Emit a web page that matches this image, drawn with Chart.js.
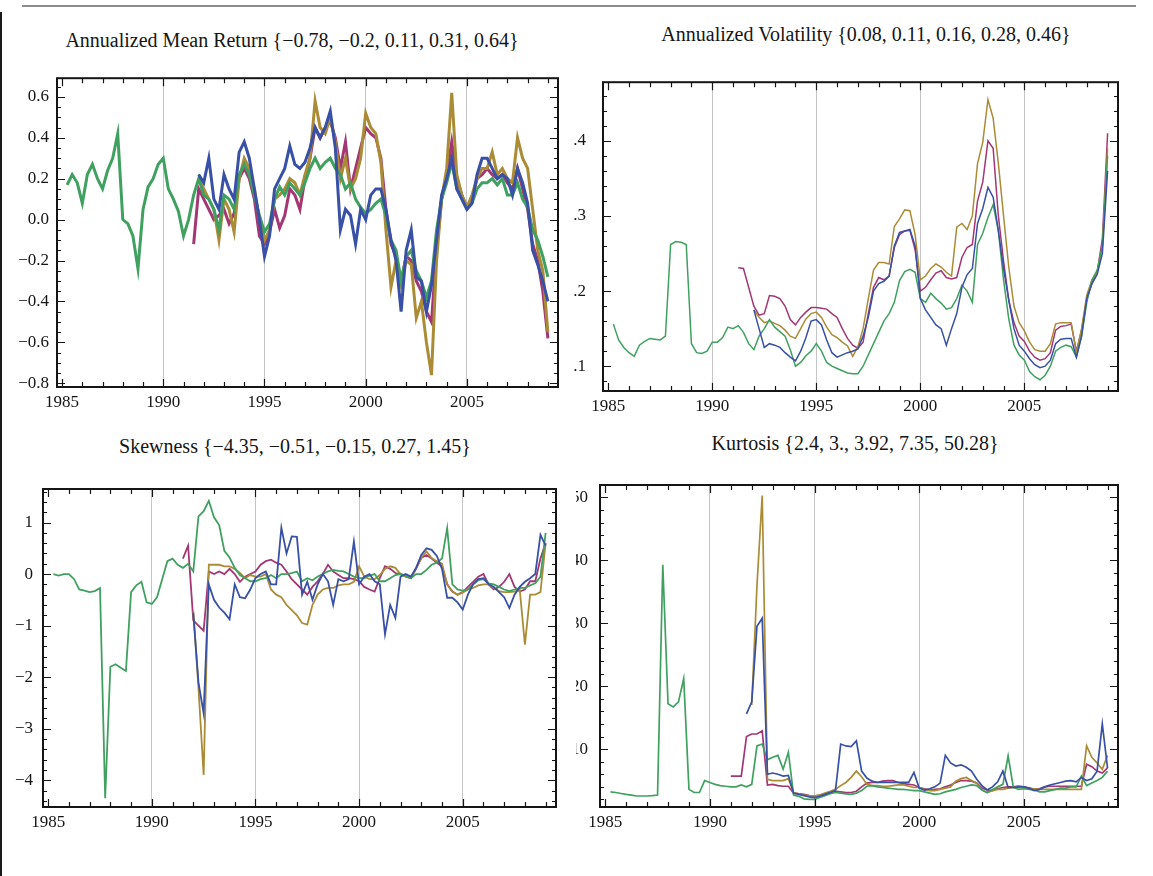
<!DOCTYPE html>
<html>
<head>
<meta charset="utf-8">
<script src="https://cdn.jsdelivr.net/npm/chart.js@4.4.1/dist/chart.umd.min.js"></script>
<style>
  html, body { margin: 0; padding: 0; background: #fff; width: 1153px; height: 876px; overflow: hidden; }
  canvas { position: absolute; }
  .ttl { position: absolute; transform: translate(-50%, -50%); white-space: nowrap;
         font: 20px 'Liberation Serif', 'Times New Roman', serif; color: #151515; }
  #topRule { position: absolute; left: 22px; top: 5px; width: 1114px; height: 2px; background: #8c8c8c; }
  #leftRule { position: absolute; left: 0; top: 12px; width: 2px; height: 864px; background: #1a1a1a; }
</style>
</head>
<body>
<div id="topRule"></div>
<div id="leftRule"></div>

<div class="ttl" style="left:292px; top:40px">Annualized Mean Return {−0.78, −0.2, 0.11, 0.31, 0.64}</div>
<div class="ttl" style="left:866px; top:34px">Annualized Volatility {0.08, 0.11, 0.16, 0.28, 0.46}</div>
<div class="ttl" style="left:295px; top:446px">Skewness {−4.35, −0.51, −0.15, 0.27, 1.45}</div>
<div class="ttl" style="left:855px; top:443px">Kurtosis {2.4, 3., 3.92, 7.35, 50.28}</div>

<canvas id="retChart" width="580" height="360" style="left:0; top:60px"></canvas>
<canvas id="volChart" width="580" height="365" style="left:573px; top:55px"></canvas>
<canvas id="skewChart" width="580" height="375" style="left:0; top:465px"></canvas>
<canvas id="kurtChart" width="577" height="380" style="left:576px; top:460px"></canvas>

<script>
// quarterly samples; each series lists its first quarter, then one value per quarter up to 2009.0
const labelYears = [1985, 1990, 1995, 2000, 2005];
const gridYears = [1990, 1995, 2000, 2005];

// ---- annualized mean return ----
const retGreenStart = 1985.25;
const retGreen = [
  0.17, 0.22, 0.18,
  0.08, 0.22, 0.27, 0.20,
  0.15, 0.24, 0.30, 0.42,
  0.00, -0.02, -0.08, -0.24,
  0.05, 0.16, 0.20, 0.27,
  0.30, 0.15, 0.10, 0.04,
  -0.08, 0.00, 0.12, 0.20,
  0.12, 0.10, 0.05, -0.05,
  0.12, 0.10, 0.05, 0.22,
  0.27, 0.22, 0.12, 0.02,
  -0.06, -0.02, 0.10, 0.16,
  0.12, 0.18, 0.15, 0.12,
  0.18, 0.25, 0.30, 0.25,
  0.28, 0.30, 0.25, 0.22,
  0.15, 0.18, 0.10, 0.06,
  0.03, 0.05, 0.08, 0.10,
  0.02, -0.10, -0.15, -0.30,
  -0.18, -0.15, -0.25, -0.30,
  -0.38, -0.30, -0.05, 0.10,
  0.18, 0.28, 0.15, 0.10,
  0.05, 0.08, 0.15, 0.18,
  0.18, 0.20, 0.17, 0.20,
  0.12, 0.12, 0.18, 0.10,
  0.06, -0.05, -0.10, -0.18,
  -0.28
];
const retMagentaStart = 1991.5;
const retMagenta = [
  -0.12, 0.15,
  0.10, 0.05, 0.00, 0.02,
  0.05, -0.02, 0.03, 0.20,
  0.25, 0.20, 0.10, -0.08,
  -0.12, -0.06, 0.05, -0.04,
  0.02, 0.15, 0.12, 0.05,
  0.20, 0.30, 0.45, 0.40,
  0.45, 0.48, 0.40, 0.25,
  0.38, 0.15, 0.25, 0.35,
  0.45, 0.42, 0.40, 0.30,
  0.05, -0.12, -0.18, -0.30,
  -0.18, -0.20, -0.30, -0.35,
  -0.45, -0.50, -0.15, 0.10,
  0.22, 0.38, 0.20, 0.12,
  0.06, 0.10, 0.20, 0.22,
  0.25, 0.22, 0.20, 0.22,
  0.18, 0.15, 0.25, 0.15,
  0.05, -0.12, -0.20, -0.35,
  -0.58
];
const retGoldStart = 1991.75;
const retGold = [
  0.20,
  0.15, 0.10, 0.05, -0.10,
  0.10, 0.05, -0.06, 0.20,
  0.30, 0.25, 0.15, 0.00,
  -0.10, -0.05, 0.10, 0.12,
  0.15, 0.20, 0.18, 0.12,
  0.22, 0.30, 0.58, 0.45,
  0.42, 0.50, 0.38, 0.20,
  0.30, 0.15, 0.20, 0.30,
  0.52, 0.45, 0.42, 0.28,
  -0.05, -0.33, -0.20, -0.32,
  -0.20, -0.22, -0.48, -0.40,
  -0.60, -0.76, -0.20, 0.10,
  0.25, 0.62, 0.22, 0.12,
  0.06, 0.12, 0.20, 0.25,
  0.25, 0.33, 0.22, 0.25,
  0.20, 0.18, 0.40, 0.30,
  0.25, 0.05, -0.15, -0.25,
  -0.55
];
const retBlueStart = 1991.75;
const retBlue = [
  0.22,
  0.18, 0.30, 0.10, 0.05,
  0.22, 0.15, 0.10, 0.33,
  0.38, 0.30, 0.15, 0.00,
  -0.18, -0.08, 0.15, 0.20,
  0.25, 0.36, 0.27, 0.25,
  0.28, 0.35, 0.45, 0.40,
  0.45, 0.53, 0.35, -0.05,
  0.05, 0.02, -0.12, 0.05,
  0.00, 0.12, 0.15, 0.15,
  0.05, -0.10, -0.20, -0.45,
  -0.15, -0.05, -0.28, -0.30,
  -0.45, -0.32, -0.10, 0.12,
  0.20, 0.30, 0.15, 0.10,
  0.05, 0.08, 0.22, 0.30,
  0.30, 0.25, 0.20, 0.22,
  0.20, 0.12, 0.25, 0.18,
  0.08, -0.15, -0.22, -0.30,
  -0.40
];
const retTicks = [-0.8, -0.6, -0.4, -0.2, 0, 0.2, 0.4, 0.6];

// ---- annualized volatility ----
const volGreenStart = 1985.25;
const volGreen = [
  0.156, 0.135, 0.125,
  0.118, 0.113, 0.128, 0.133,
  0.137, 0.136, 0.135, 0.140,
  0.262, 0.266, 0.265, 0.262,
  0.130, 0.118, 0.117, 0.120,
  0.132, 0.132, 0.138, 0.152,
  0.150, 0.154, 0.145, 0.130,
  0.122, 0.140, 0.150, 0.162,
  0.152, 0.146, 0.140, 0.122,
  0.100, 0.105, 0.114, 0.120,
  0.130, 0.120, 0.105, 0.100,
  0.097, 0.094, 0.091, 0.090,
  0.090, 0.100, 0.115, 0.130,
  0.145, 0.160, 0.170, 0.185,
  0.214, 0.226, 0.229, 0.225,
  0.190, 0.185, 0.197, 0.190,
  0.184, 0.176, 0.178, 0.190,
  0.208, 0.200, 0.185, 0.262,
  0.277, 0.298, 0.315, 0.280,
  0.215, 0.163, 0.128, 0.115,
  0.108, 0.093, 0.086, 0.082,
  0.088, 0.100, 0.120, 0.125,
  0.128, 0.126, 0.112, 0.140,
  0.185, 0.215, 0.228, 0.260,
  0.380
];
const volMagentaStart = 1991.25;
const volMagenta = [
  0.231, 0.230, 0.205,
  0.180, 0.168, 0.170, 0.194,
  0.193, 0.190, 0.180, 0.162,
  0.155, 0.165, 0.172, 0.178,
  0.178, 0.177, 0.176, 0.170,
  0.165, 0.150, 0.137, 0.128,
  0.124, 0.132, 0.170, 0.205,
  0.218, 0.215, 0.220, 0.258,
  0.275, 0.280, 0.281, 0.255,
  0.200, 0.205, 0.215, 0.224,
  0.227, 0.218, 0.216, 0.218,
  0.245, 0.258, 0.262, 0.320,
  0.345, 0.400, 0.390, 0.300,
  0.240, 0.188, 0.158, 0.140,
  0.133, 0.120, 0.112, 0.108,
  0.110, 0.118, 0.148, 0.153,
  0.154, 0.156, 0.120, 0.148,
  0.190, 0.210, 0.225, 0.270,
  0.410
];
const volGoldStart = 1992.0;
const volGold = [
  0.175, 0.165, 0.158, 0.160,
  0.157, 0.154, 0.148, 0.140,
  0.137, 0.150, 0.163, 0.170,
  0.172, 0.165, 0.152, 0.142,
  0.138, 0.132, 0.127, 0.113,
  0.126, 0.150, 0.190, 0.228,
  0.238, 0.238, 0.236, 0.286,
  0.296, 0.308, 0.307, 0.275,
  0.215, 0.220, 0.230, 0.236,
  0.232, 0.225, 0.220, 0.285,
  0.290, 0.282, 0.300, 0.370,
  0.398, 0.455, 0.430, 0.370,
  0.300, 0.232, 0.180, 0.158,
  0.147, 0.132, 0.122, 0.120,
  0.120, 0.130, 0.156, 0.158,
  0.158, 0.158, 0.118, 0.150,
  0.195, 0.215, 0.225, 0.260,
  0.390
];
const volBlueStart = 1992.0;
const volBlue = [
  0.175, 0.150, 0.125, 0.130,
  0.128, 0.125, 0.118, 0.112,
  0.107, 0.120, 0.138, 0.160,
  0.162, 0.155, 0.135, 0.118,
  0.112, 0.115, 0.118, 0.120,
  0.123, 0.140, 0.165, 0.200,
  0.210, 0.213, 0.220, 0.260,
  0.278, 0.280, 0.282, 0.260,
  0.190, 0.175, 0.165, 0.155,
  0.150, 0.128, 0.150, 0.170,
  0.205, 0.222, 0.230, 0.290,
  0.310, 0.338, 0.325, 0.280,
  0.230, 0.188, 0.150, 0.128,
  0.120, 0.110, 0.102, 0.098,
  0.100, 0.108, 0.130, 0.136,
  0.137, 0.137, 0.112, 0.140,
  0.190, 0.210, 0.222, 0.250,
  0.360
];
const volTicks = [0.1, 0.2, 0.3, 0.4];

// ---- skewness ----
const skewGreenStart = 1985.25;
const skewGreen = [
  0.00, -0.03, 0.00,
  0.00, -0.10, -0.30, -0.32,
  -0.35, -0.33, -0.27, -4.35,
  -1.80, -1.75, -1.82, -1.88,
  -0.35, -0.22, -0.15, -0.55,
  -0.58, -0.45, -0.10, 0.25,
  0.30, 0.18, 0.12, 0.20,
  0.05, 1.12, 1.22, 1.42,
  1.10, 0.95, 0.45, 0.32,
  0.12, -0.02, -0.08, -0.14,
  -0.14, -0.10, -0.08, -0.02,
  -0.08, 0.00, 0.00, 0.02,
  0.05, -0.14, -0.08, -0.12,
  -0.05, 0.00, 0.05, 0.08,
  0.06, 0.05, 0.00, -0.05,
  -0.08, -0.08, -0.03, 0.00,
  -0.14, -0.14, -0.08, -0.02,
  0.00, -0.03, -0.08, 0.00,
  0.00, 0.08, 0.18, 0.22,
  0.30, 0.89, -0.20, -0.30,
  -0.32, -0.30, -0.20, -0.12,
  -0.10, -0.18, -0.20, -0.25,
  -0.30, -0.33, -0.30, -0.27,
  -0.27, -0.22, -0.18, -0.05,
  0.80
];
const skewMagentaStart = 1991.5;
const skewMagenta = [
  0.30, 0.55,
  -0.90, -1.00, -1.10, 0.05,
  0.00, 0.05, 0.00, 0.10,
  0.00, -0.15, -0.05, 0.00,
  0.05, 0.18, 0.25, 0.28,
  0.22, 0.18, 0.05, -0.10,
  -0.20, -0.30, -0.40, -0.25,
  -0.14, 0.00, 0.18, 0.05,
  -0.02, -0.08, -0.08, -0.10,
  -0.14, -0.25, -0.30, -0.34,
  -0.08, 0.15, 0.10, 0.02,
  0.00, -0.05, -0.08, 0.10,
  0.31, 0.37, 0.30, 0.22,
  0.15, -0.20, -0.34, -0.40,
  -0.35, -0.25, -0.15, -0.05,
  0.00, -0.20, -0.30, -0.25,
  -0.15, 0.00, -0.25, -0.34,
  -0.30, -0.14, -0.14, 0.30,
  0.60
];
const skewGoldStart = 1992.0;
const skewGold = [
  -0.72, -2.20, -3.90, 0.18,
  0.18, 0.18, 0.15, 0.15,
  0.10, 0.02, -0.08, -0.02,
  -0.05, -0.05, 0.00, -0.30,
  -0.40, -0.45, -0.60, -0.70,
  -0.80, -0.95, -0.98, -0.60,
  -0.40, -0.30, -0.27, -0.27,
  -0.22, -0.20, -0.20, -0.15,
  0.15, -0.05, -0.10, -0.10,
  -0.02, 0.10, 0.15, 0.12,
  0.00, -0.05, -0.08, 0.12,
  0.31, 0.44, 0.31, 0.25,
  0.20, -0.20, -0.34, -0.40,
  -0.36, -0.30, -0.27, -0.22,
  -0.20, -0.20, -0.27, -0.33,
  -0.35, -0.35, -0.34, -0.30,
  -1.37, -0.40, -0.40, -0.35,
  0.60
];
const skewBlueStart = 1992.0;
const skewBlue = [
  -0.75, -2.10, -2.70, -0.20,
  -0.50, -0.65, -0.75, -0.88,
  -0.20, -0.45, -0.47, -0.30,
  -0.08, 0.00, 0.05, -0.20,
  -0.20, 0.90, 0.40, 0.73,
  0.72, -0.40, -0.15, -0.50,
  -0.20, 0.00, -0.14, -0.60,
  -0.10, -0.14, -0.10, 0.63,
  -0.20, -0.05, 0.00, -0.14,
  -0.20, -1.17, -0.60, -0.85,
  -0.05, 0.00, -0.05, 0.12,
  0.37, 0.50, 0.47, 0.35,
  0.10, -0.46, -0.46, -0.55,
  -0.69, -0.40, -0.20, -0.10,
  -0.08, -0.20, -0.25, -0.35,
  -0.45, -0.66, -0.40, -0.25,
  -0.15, -0.08, 0.00, 0.76,
  0.55
];
const skewTicks = [-4, -3, -2, -1, 0, 1];

// ---- kurtosis ----
const kurtGreenStart = 1985.25;
const kurtGreen = [
  3.2, 3.1, 2.95,
  2.8, 2.7, 2.55, 2.55,
  2.55, 2.6, 2.7, 39.3,
  17.2, 16.7, 17.5, 21.2,
  3.6, 3.1, 3.1, 5.0,
  4.7, 4.4, 4.2, 4.1,
  4.0, 4.0, 4.3, 4.0,
  4.4, 10.5, 10.8, 8.3,
  8.7, 9.0, 6.8, 9.5,
  2.7, 2.5, 2.1, 2.0,
  2.0, 2.3, 2.6, 2.9,
  3.1, 3.0, 2.9, 2.8,
  3.0, 3.4, 4.1, 4.2,
  4.0, 3.9, 3.8, 3.7,
  3.6, 3.6, 3.5, 3.4,
  3.4, 3.2, 3.0, 2.8,
  2.9, 3.2, 3.4, 3.6,
  3.9, 4.1, 4.3, 4.2,
  3.5, 3.1, 3.6, 4.0,
  4.4, 8.9, 3.9, 3.6,
  3.7, 3.6, 3.5, 3.2,
  3.2, 3.4, 3.6, 3.8,
  3.8, 4.0, 4.0, 5.7,
  4.2, 4.6, 5.0, 5.5,
  6.5
];
const kurtMagentaStart = 1991.0;
const kurtMagenta = [
  5.7, 5.7, 5.7, 12.0,
  12.4, 12.4, 12.9, 4.3,
  4.4, 4.2, 4.1, 4.1,
  3.0, 2.9, 2.8, 2.6,
  2.55, 2.7, 2.9, 3.1,
  3.3, 3.2, 3.1, 3.1,
  3.3, 4.0, 4.6, 4.7,
  4.7, 4.9, 5.0, 5.0,
  4.7, 4.5, 4.4, 4.3,
  3.9, 3.7, 3.5, 3.6,
  3.7, 4.0, 4.3, 4.7,
  5.0, 5.0, 4.9, 4.6,
  3.8, 3.5, 3.4, 3.7,
  3.9, 4.0, 4.0, 4.1,
  4.0, 3.8, 3.6, 3.7,
  4.0, 4.1, 4.1, 4.1,
  4.1, 4.1, 4.1, 4.1,
  7.6, 7.2, 6.5, 6.2,
  7.0
];
const kurtGoldStart = 1992.0;
const kurtGold = [
  17.0, 36.0, 50.28, 5.2,
  5.0, 5.0, 5.0, 5.3,
  3.1, 2.9, 2.7, 2.6,
  2.55, 2.7, 3.0, 3.3,
  3.6, 4.2, 4.7, 5.5,
  6.5, 5.6, 4.4, 4.2,
  4.2, 4.1, 4.1, 4.2,
  4.3, 4.3, 4.1, 3.9,
  3.9, 3.6, 3.4, 3.4,
  3.6, 3.8, 4.0, 4.9,
  5.3, 5.5, 5.0, 4.6,
  3.5, 3.1, 3.4, 3.6,
  3.6, 3.8, 3.9, 3.9,
  3.9, 3.8, 3.7, 3.6,
  3.6, 3.6, 3.6, 3.6,
  3.6, 3.6, 3.6, 3.6,
  10.5, 8.7, 7.8, 6.8,
  9.0
];
const kurtBlueStart = 1991.75;
const kurtBlue = [
  15.6,
  17.5, 29.5, 30.8, 6.0,
  6.2, 6.0, 5.7, 5.8,
  3.0, 2.8, 2.6, 2.4,
  2.3, 2.5, 2.8, 3.1,
  3.4, 10.8, 10.5, 10.4,
  11.3, 6.5, 5.4, 4.9,
  4.7, 4.7, 4.7, 4.7,
  4.7, 4.7, 4.7, 6.3,
  3.8, 3.5, 3.7, 4.0,
  4.6, 9.0, 7.8, 7.3,
  7.5, 7.1, 6.5, 5.2,
  4.2, 3.5, 4.0, 4.8,
  6.5, 3.9, 3.9, 4.0,
  4.0, 3.8, 3.4, 3.6,
  4.0, 4.3, 4.5, 4.7,
  4.9, 5.0, 4.8, 5.5,
  5.0, 5.3, 6.5, 14.0,
  7.0
];
const kurtTicks = [10, 20, 30, 40, 50];

const BLUE = 'rgb(56, 80, 165)';
const MAGENTA = 'rgb(162, 55, 115)';
const GOLD = 'rgb(170, 140, 55)';
const GREEN = 'rgb(64, 160, 96)';

Chart.defaults.font.family = "'Liberation Serif', 'Times New Roman', serif";
Chart.defaults.color = '#151515';

function toPoints(start, values) {
  return values.map((v, i) => ({ x: start + i * 0.25, y: v }));
}

// tick text uses a real minus sign, as in the original
function signed(digits) {
  return v => (v < 0 ? '\u2212' : '') + Math.abs(v).toFixed(digits);
}

// Mathematica-style frame: box plus inward ticks on all four sides
const frameTicks = {
  id: 'frameTicks',
  afterDraw(chart, args, opts) {
    const { ctx, chartArea: a, scales: { x, y } } = chart;
    ctx.save();
    ctx.strokeStyle = '#151515';
    ctx.lineWidth = 1.2;
    ctx.beginPath();
    for (let yr = Math.ceil(x.min); yr <= x.max; yr++) {
      const px = Math.round(x.getPixelForValue(yr)) + 0.5;
      const len = yr % 5 === 0 ? 8 : 5;
      ctx.moveTo(px, a.bottom); ctx.lineTo(px, a.bottom - len);
      ctx.moveTo(px, a.top); ctx.lineTo(px, a.top + len);
    }
    const k0 = Math.ceil(y.min / opts.minor - 1e-6);
    const k1 = Math.floor(y.max / opts.minor + 1e-6);
    for (let k = k0; k <= k1; k++) {
      const py = Math.round(y.getPixelForValue(k * opts.minor)) + 0.5;
      const len = k % opts.every === 0 ? 8 : 4;
      ctx.moveTo(a.left, py); ctx.lineTo(a.left + len, py);
      ctx.moveTo(a.right, py); ctx.lineTo(a.right - len, py);
    }
    ctx.stroke();
    ctx.lineWidth = 2;
    ctx.strokeRect(a.left, a.top, a.right - a.left, a.bottom - a.top);
    ctx.restore();
  }
};

function makePanel(id, cfg) {
  const series = [
    { data: cfg.blue, color: BLUE },
    { data: cfg.green, color: GREEN },
    { data: cfg.gold, color: GOLD },
    { data: cfg.magenta, color: MAGENTA }
  ];
  return new Chart(document.getElementById(id), {
    type: 'line',
    data: {
      datasets: series.map(s => ({
        data: s.data,
        borderColor: s.color,
        borderWidth: cfg.lineWidth,
        pointRadius: 0,
        fill: false,
        tension: 0,
        spanGaps: false
      }))
    },
    options: {
      responsive: false,
      animation: false,
      events: [],
      layout: { padding: { top: cfg.padTop, right: cfg.padRight, left: 0, bottom: 0 } },
      plugins: {
        legend: { display: false },
        tooltip: { enabled: false },
        frameTicks: { minor: cfg.minor, every: cfg.every }
      },
      scales: {
        x: {
          type: 'linear',
          min: 1984.75,
          max: 2009.5,
          afterBuildTicks: ax => { ax.ticks = labelYears.map(v => ({ value: v })); },
          afterFit: ax => { ax.height = cfg.xHeight; },
          border: { display: false },
          grid: {
            drawTicks: false,
            lineWidth: 1,
            color: c => (c.tick && gridYears.includes(c.tick.value)) ? '#c4c4c4' : 'rgba(0,0,0,0)'
          },
          ticks: { autoSkip: false, maxRotation: 0, padding: 5, font: { size: 17 }, callback: v => String(v) }
        },
        y: {
          min: cfg.yMin,
          max: cfg.yMax,
          afterBuildTicks: ax => { ax.ticks = cfg.yTicks.map(v => ({ value: v })); },
          afterFit: ax => { ax.width = cfg.yWidth; },
          border: { display: false },
          grid: { display: false, drawTicks: false },
          ticks: { padding: cfg.yPad, font: { size: 17 }, callback: cfg.yFormat }
        }
      }
    },
    plugins: [frameTicks]
  });
}

makePanel('retChart', {
  blue: toPoints(retBlueStart, retBlue),
  green: toPoints(retGreenStart, retGreen),
  gold: toPoints(retGoldStart, retGold),
  magenta: toPoints(retMagentaStart, retMagenta),
  lineWidth: 3, yMin: -0.818, yMax: 0.691, yTicks: retTicks,
  yFormat: signed(1), minor: 0.05, every: 4,
  padTop: 18, padRight: 22, yWidth: 57, yPad: 8, xHeight: 33
});

makePanel('volChart', {
  blue: toPoints(volBlueStart, volBlue),
  green: toPoints(volGreenStart, volGreen),
  gold: toPoints(volGoldStart, volGold),
  magenta: toPoints(volMagentaStart, volMagenta),
  lineWidth: 1.5, yMin: 0.067, yMax: 0.478, yTicks: volTicks,
  yFormat: signed(1), minor: 0.02, every: 5,
  padTop: 20, padRight: 35, yWidth: 30, yPad: 17, xHeight: 29
});

makePanel('skewChart', {
  blue: toPoints(skewBlueStart, skewBlue),
  green: toPoints(skewGreenStart, skewGreen),
  gold: toPoints(skewGoldStart, skewGold),
  magenta: toPoints(skewMagentaStart, skewMagenta),
  lineWidth: 1.8, yMin: -4.52, yMax: 1.65, yTicks: skewTicks,
  yFormat: signed(0), minor: 0.2, every: 5,
  padTop: 24, padRight: 24, yWidth: 43, yPad: 10, xHeight: 33
});

makePanel('kurtChart', {
  blue: toPoints(kurtBlueStart, kurtBlue),
  green: toPoints(kurtGreenStart, kurtGreen),
  gold: toPoints(kurtGoldStart, kurtGold),
  magenta: toPoints(kurtMagentaStart, kurtMagenta),
  lineWidth: 1.7, yMin: 0.8, yMax: 51.96, yTicks: kurtTicks,
  yFormat: signed(0), minor: 2, every: 5,
  padTop: 25, padRight: 35, yWidth: 24, yPad: 12, xHeight: 33
});
</script>
</body>
</html>
